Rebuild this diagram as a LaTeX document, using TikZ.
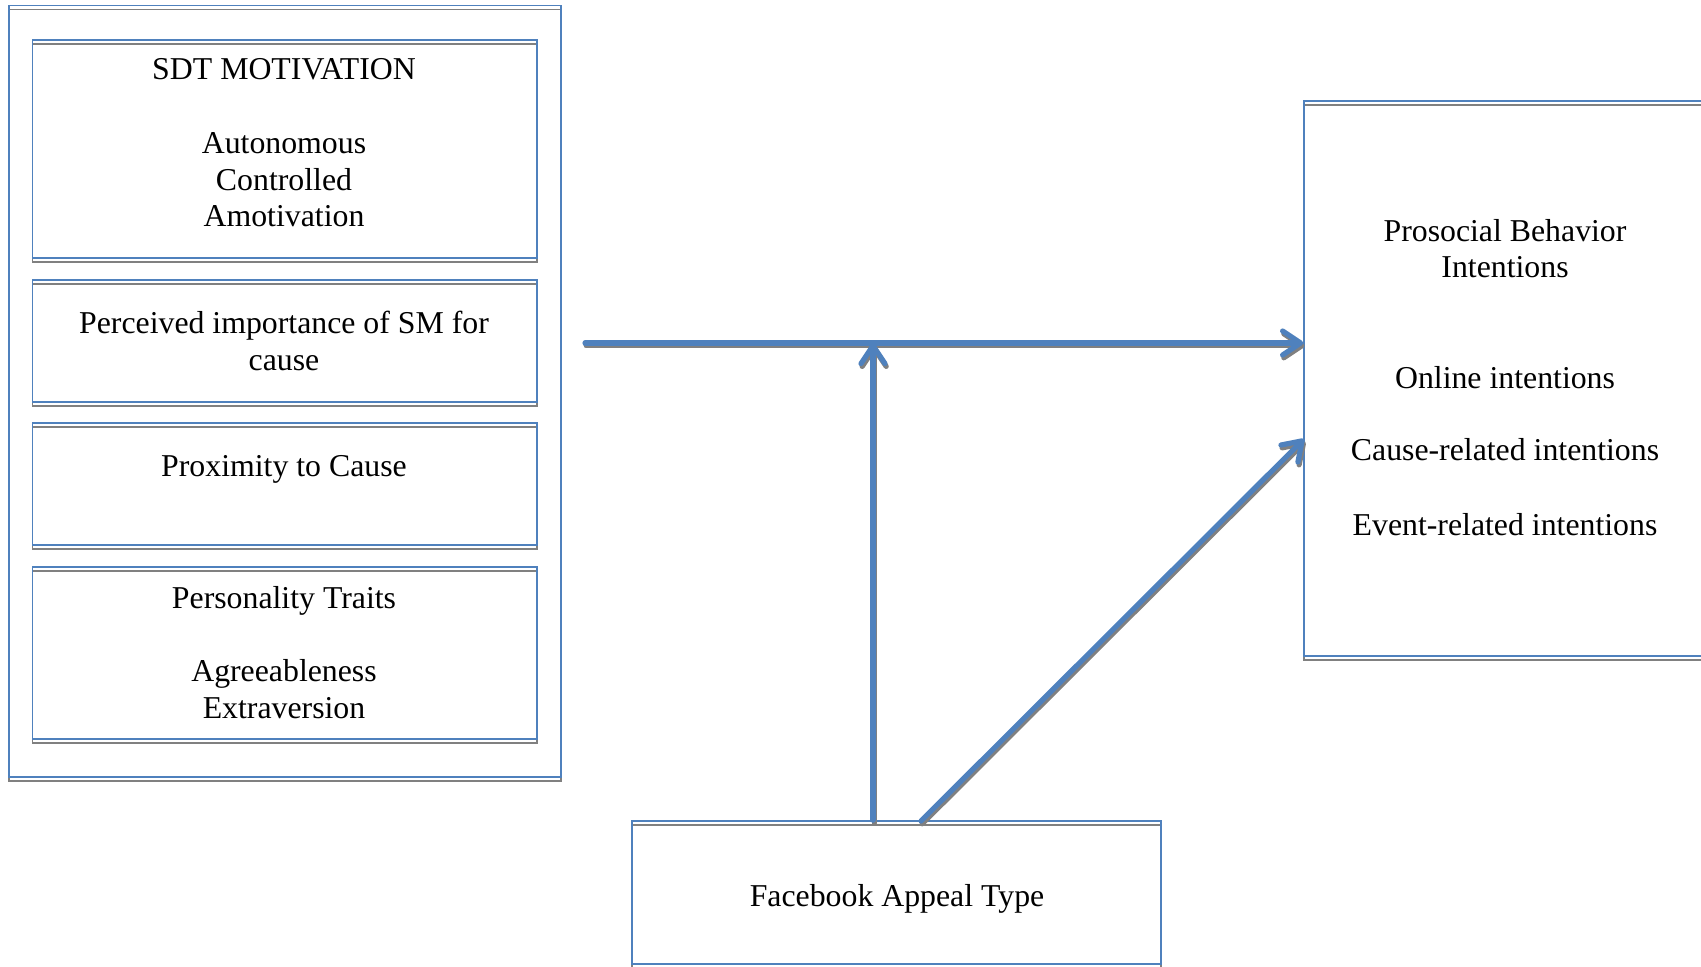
\documentclass[tikz,border=0pt]{standalone}
\usepackage{fontspec}
\setmainfont{Liberation Serif}
\usetikzlibrary{arrows.meta}
\definecolor{boxblue}{HTML}{4F81BD}
\definecolor{shadowgray}{HTML}{808080}
\begin{document}
\begin{tikzpicture}[x=0.5pt,y=-0.5pt,
  box/.style={draw=boxblue, line width=0.8pt, inner sep=0pt,
    preaction={draw=shadowgray, line width=0.8pt, transform canvas={yshift=-2pt}}},
  txt/.style={anchor=base, inner sep=0pt, font=\fontsize{15.9pt}{18.3pt}\selectfont},
  arrbase/.style={line width=2.6pt, line cap=round, line join=round,
    -{Straight Barb[length=9pt,width=12pt,round]}},
  arr/.style={arrbase, draw=boxblue},
  arrsh/.style={arrbase, draw=shadowgray, transform canvas={xshift=0.6pt,yshift=-1.4pt}}]
\useasboundingbox (0,0) rectangle (1701,967);
% left outer frame and inner boxes
\node[box, minimum width=276.2pt, minimum height=385.8pt] (outer) at (284.9,391.2) {};
\node[box, minimum width=252.3pt, minimum height=109pt] (sdt) at (284.8,149) {};
\node[box, minimum width=252.3pt, minimum height=61pt] (pism) at (284.8,341) {};
\node[box, minimum width=252.3pt, minimum height=61pt] (prox) at (284.8,484) {};
\node[box, minimum width=252.3pt, minimum height=86pt] (pers) at (284.8,653) {};
% right box
\node[box, minimum width=204pt, minimum height=277.5pt] (pbi) at (1508,378.5) {};
% bottom box
\node[box, minimum width=264.5pt, minimum height=71.5pt] (fb) at (896.5,892.5) {};
% texts
\node[txt] (t1) at (284,80) {SDT MOTIVATION};
\node[txt] (t2) at (284,154) {Autonomous};
\node[txt] (t3) at (284,191) {Controlled};
\node[txt] (t4) at (284,227) {Amotivation};
\node[txt] (t5) at (284,334) {Perceived importance of SM for};
\node[txt] (t6) at (284,371) {cause};
\node[txt] (t7) at (284,477) {Proximity to Cause};
\node[txt] (t8) at (284,608) {Personality Traits};
\node[txt] (t9) at (284,681) {Agreeableness};
\node[txt] (t10) at (284,718) {Extraversion};
\node[txt] (r1) at (1505,242) {Prosocial Behavior};
\node[txt] (r2) at (1505,278) {Intentions};
\node[txt] (r3) at (1505,389) {Online intentions};
\node[txt] (r4) at (1505,461) {Cause-related intentions};
\node[txt] (r5) at (1505,535) {Event-related intentions};
\node[txt] (b1) at (897,906) {Facebook Appeal Type};
% connectors
\coordinate (hs) at (585,343);
\coordinate (vx) at (873,343);
\coordinate (ds) at (921,821);
\coordinate (de) at (1304,439);
\draw[arrsh] (hs) -- (hs -| pbi.west);
\draw[arrsh] (vx |- fb.north) -- (vx);
\draw[arrsh] (ds) -- (de);
\draw[arr] (hs) -- (hs -| pbi.west);
\draw[arr] (vx |- fb.north) -- (vx);
\draw[arr] (ds) -- (de);
\end{tikzpicture}
\end{document}
